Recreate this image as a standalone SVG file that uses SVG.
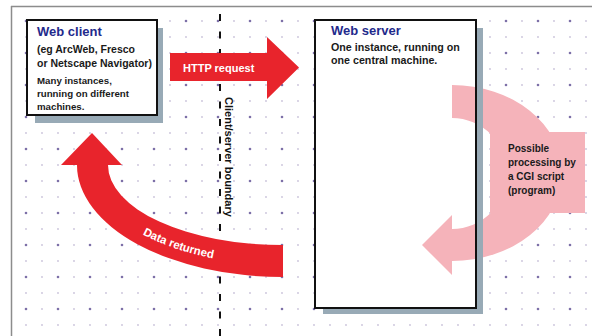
<svg xmlns="http://www.w3.org/2000/svg" width="592" height="336" viewBox="0 0 592 336">
<defs>
<pattern id="dots" x="10" y="5" width="32" height="32" patternUnits="userSpaceOnUse">
<circle cx="0" cy="0" r="0.9" fill="#c9c2da"/>
<circle cx="16" cy="0" r="0.9" fill="#c9c2da"/>
<circle cx="0" cy="16" r="0.9" fill="#c9c2da"/>
<circle cx="16" cy="16" r="1.3" fill="#7d70a8"/>
<circle cx="32" cy="0" r="0.9" fill="#c9c2da"/>
<circle cx="0" cy="32" r="0.9" fill="#c9c2da"/>
<circle cx="32" cy="32" r="0.9" fill="#c9c2da"/>
<circle cx="32" cy="16" r="0.9" fill="#c9c2da"/>
<circle cx="16" cy="32" r="0.9" fill="#c9c2da"/>
</pattern>
<path id="dataPath" d="M88,165 A195,100 0 0 0 283,265" fill="none"/>
</defs>
<style>
text { font-family: "Liberation Sans", Arial, sans-serif; }
.title { font-size: 13px; font-weight: bold; fill: #1f2a8c; }
.body { font-weight: bold; fill: #1a1a1a; }
.boxfill { fill: #ffffff; }
.boxline { fill: none; stroke: #111111; stroke-width: 2; }
.shadow { fill: #98aab6; }
.red { fill: #e8242c; }
.pink { fill: #f5b3ba; }
.wt { fill: #ffffff; font-weight: bold; }
</style>
<rect x="0" y="0" width="592" height="336" fill="#ffffff"/>
<rect x="12" y="7" width="580" height="329" fill="url(#dots)"/>
<path d="M11,6.5 H592 M11.5,6 V336" stroke="#8c8c8c" stroke-width="1.5" fill="none"/>

<g id="boundary">
<line x1="220" y1="14" x2="220" y2="336" stroke="#111111" stroke-width="2" stroke-dasharray="7 10.5"/>
<text transform="translate(225,97) rotate(90)" font-size="11" font-weight="bold" fill="#111111">Client/server boundary</text>
</g>

<g id="web-client">
<path class="shadow" d="M157,28 H163 V123 H35 V115 H157 Z"/>
<rect class="boxfill" x="27" y="20" width="130" height="95"/>
<rect class="boxline" x="27" y="20" width="130" height="95"/>
<text class="title" x="37" y="36">Web client</text>
<text class="body" font-size="10.5" x="37" y="53">(eg ArcWeb, Fresco</text>
<text class="body" font-size="10.5" x="37" y="67">or Netscape Navigator)</text>
<text class="body" font-size="9.7" x="37" y="84">Many instances,</text>
<text class="body" font-size="9.7" x="37" y="97">running on different</text>
<text class="body" font-size="9.7" x="37" y="110">machines.</text>
</g>

<g id="web-server">
<rect class="boxfill" x="315" y="20" width="161" height="288"/>
<g id="cgi-processing">
<path class="pink" d="M452,85 A110,88 0 0 1 452,261 L452,275 L422,245 L452,215 L452,229 A55,55.5 0 0 0 452,118 Z"/>
<rect class="pink" x="490" y="132" width="95" height="81"/>
<text class="body" font-size="10" x="508" y="152">Possible</text>
<text class="body" font-size="10" x="508" y="166">processing by</text>
<text class="body" font-size="10" x="508" y="180">a CGI script</text>
<text class="body" font-size="10" x="508" y="194">(program)</text>
</g>
<path class="shadow" d="M476,28 H483 V314 H323 V308 H476 Z"/>
<rect class="boxline" x="315" y="20" width="161" height="288"/>
<text class="title" x="331" y="35">Web server</text>
<text class="body" font-size="10.7" x="331" y="51">One instance, running on</text>
<text class="body" font-size="10.7" x="331" y="64">one central machine.</text>
</g>

<g id="connectors">
<g id="http-request">
<path class="red" d="M170,53 H267 V37 L299,67.5 L267,99 V81 H170 Z"/>
<text class="wt" font-size="11" x="183" y="72">HTTP request</text>
</g>
<g id="data-returned">
<path class="red" d="M77,165 A206,112 0 0 0 283,277 L283,245 A175,80 0 0 1 108,165 L122,165 L92,133 L61,165 Z"/>
<text class="wt" font-size="11.5"><textPath href="#dataPath" startOffset="130" text-anchor="middle">Data returned</textPath></text>
</g>
</g>
</svg>
